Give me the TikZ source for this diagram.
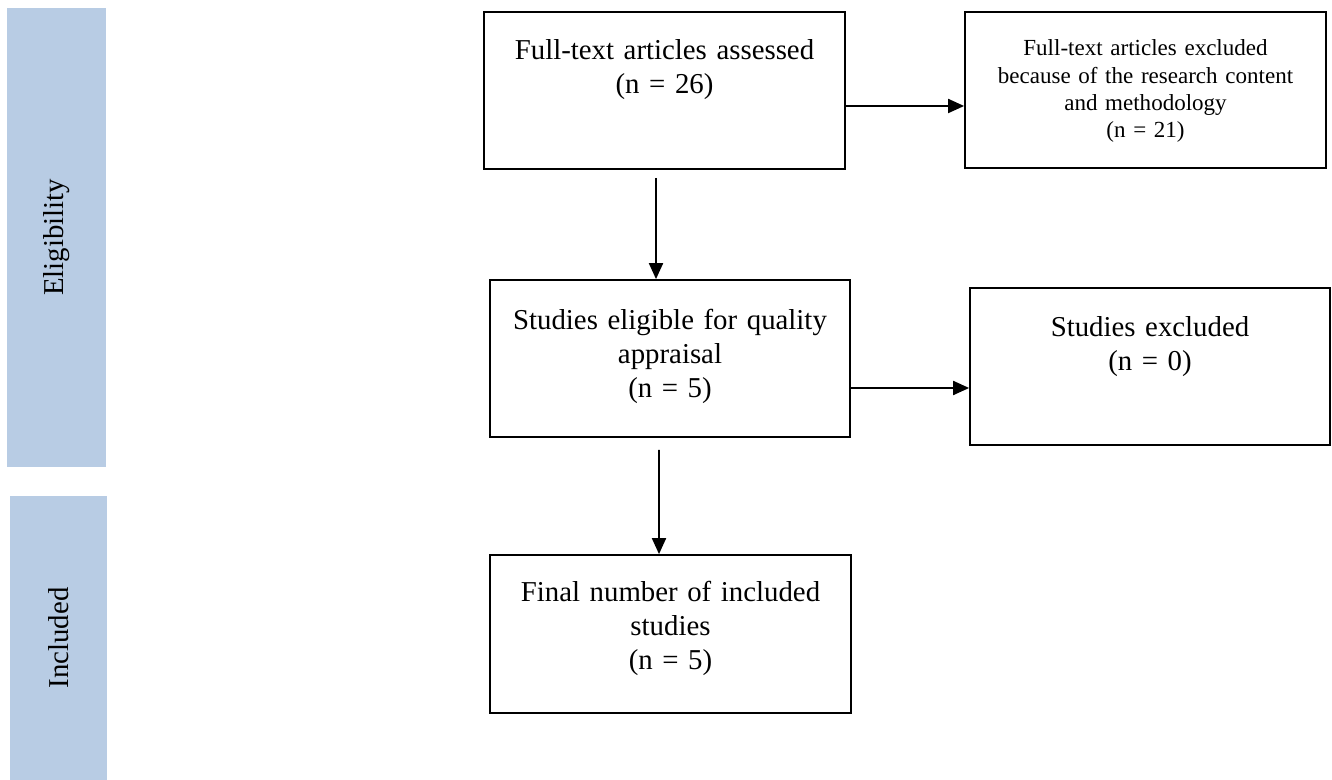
\documentclass[tikz,border=0pt]{standalone}
\usepackage{fontspec}
\setmainfont{Liberation Serif}
\usepackage{tikz}
\usetikzlibrary{arrows.meta}
\definecolor{phasefill}{HTML}{B8CCE4}
\newcommand{\mainsize}{\fontsize{16.4}{19.3}\selectfont}
\newcommand{\notesize}{\fontsize{13.1}{15.4}\selectfont}

\begin{document}
\begin{tikzpicture}
    [flowarrow/.style={draw,line width=1.1pt,-{Triangle[length=0.32cm,width=0.28cm]}}]
    \tikzstyle{stage}=[draw, line width=1pt, inner sep=0pt, align=center, text width=7.22cm, font=\mainsize]
    \tikzstyle{phase}=[fill=phasefill, inner sep=0pt, rotate=90, font=\mainsize]
    \useasboundingbox (0,0) rectangle (26.64,-15.6);
    % side bars
    \node[phase, minimum width=9.18cm, minimum height=1.98cm] (elig) at (1.13,-4.75) {Eligibility};
    \node[phase, minimum width=5.68cm, minimum height=1.94cm] (incl) at (1.17,-12.76) {Included};
    % boxes
    \node[stage, text height=0.96cm, text depth=2.18cm] (assessed) at (13.29,-1.81)
      {Full-text articles assessed\\(n = 26)};
    \node[stage, font=\notesize, text height=0.88cm, text depth=2.24cm] (excluded) at (22.91,-1.80)
      {Full-text articles excluded\\because of the research content\\and methodology\\(n = 21)};
    \node[stage, text width=7.20cm, text height=1.00cm, text depth=2.14cm] (eligible) at (13.40,-7.17)
      {Studies eligible for quality\\appraisal\\(n = 5)};
    \node[stage, text width=7.20cm, text height=0.98cm, text depth=2.16cm] (studyout) at (23.00,-7.33)
      {Studies excluded\\(n = 0)};
    \node[stage, text height=0.94cm, text depth=2.22cm] (final) at (13.41,-12.68)
      {Final number of included\\studies\\(n = 5)};
    % arrows
    \draw[flowarrow] ([yshift=-0.31cm]assessed.east) -- ([yshift=-0.32cm]excluded.west);
    \draw[flowarrow] ([xshift=-0.17cm,yshift=-0.16cm]assessed.south) -- ([xshift=-0.28cm]eligible.north);
    \draw[flowarrow] ([yshift=-0.59cm]eligible.east) -- ([yshift=-0.43cm]studyout.west);
    \draw[flowarrow] ([xshift=-0.22cm,yshift=-0.24cm]eligible.south) -- ([xshift=-0.23cm]final.north);
\end{tikzpicture}
\end{document}
